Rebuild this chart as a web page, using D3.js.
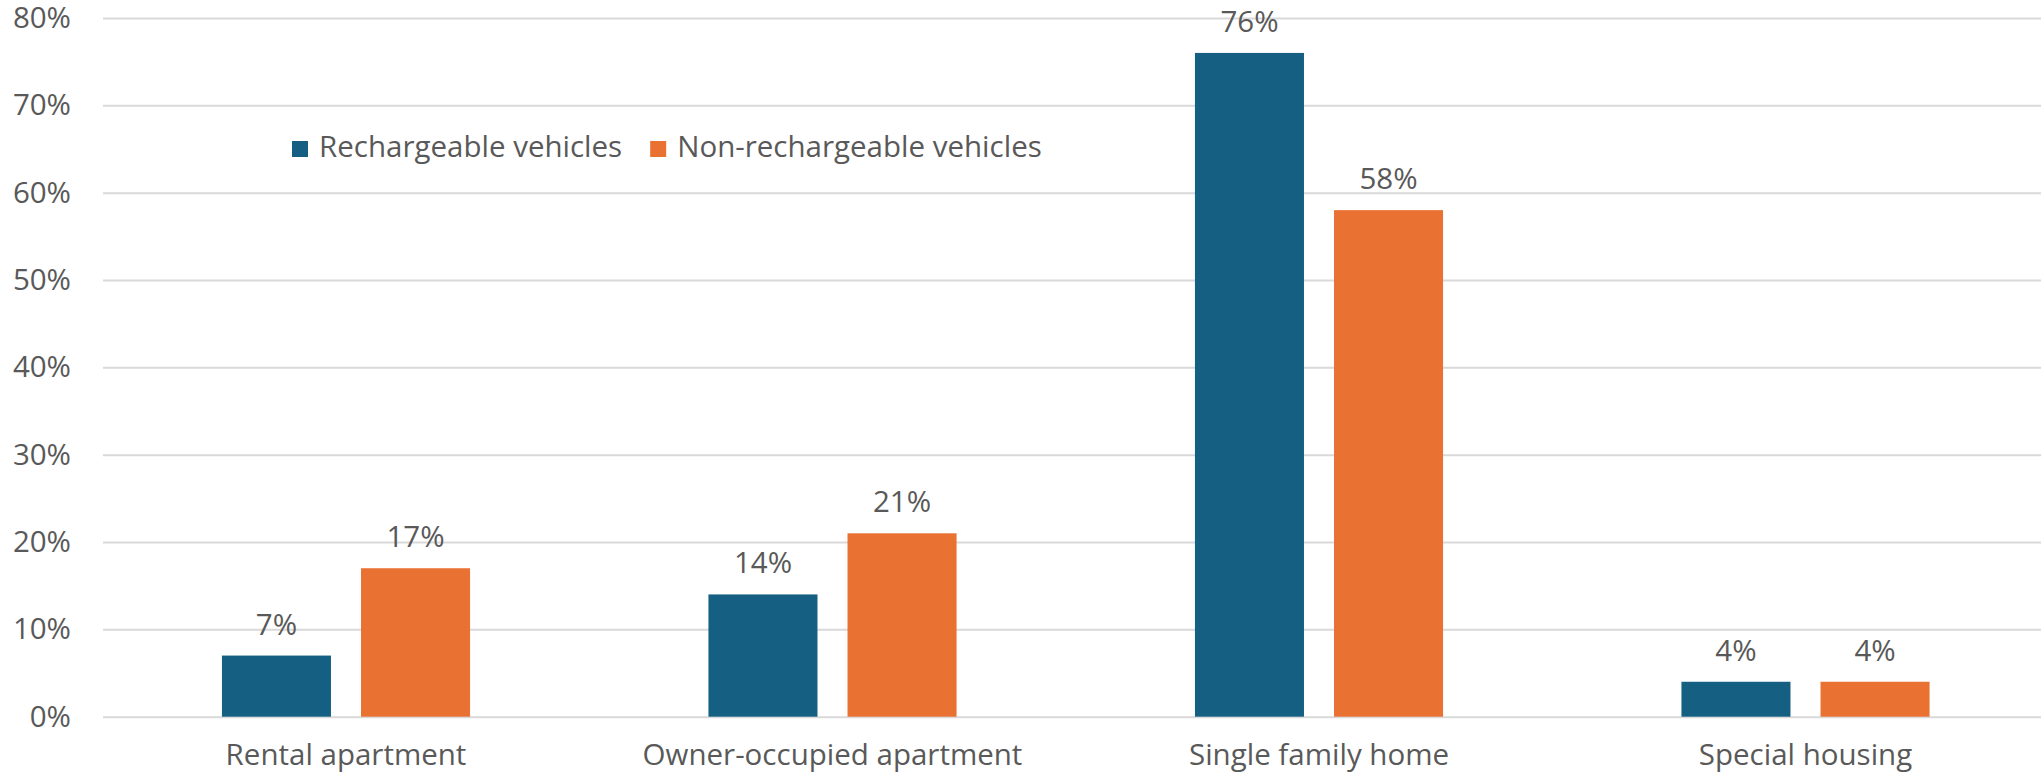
<!DOCTYPE html>
<html>
<head>
<meta charset="utf-8">
<script src="https://cdn.jsdelivr.net/npm/d3@7"></script>
<style>
  html, body { margin: 0; padding: 0; background: #ffffff; }
  svg { display: block; }
  text { font-family: "Open Sans", "Liberation Sans", sans-serif; fill: #595959; }
</style>
</head>
<body>
<svg id="chart" width="2041" height="773"></svg>
<script>
const categories = ["Rental apartment", "Owner-occupied apartment", "Single family home", "Special housing"];
const seriesNames = ["Rechargeable vehicles", "Non-rechargeable vehicles"];
const rechargeable = [0.07, 0.14, 0.76, 0.04];
const nonRechargeable = [0.17, 0.21, 0.58, 0.04];
const yTicks = [0, 0.1, 0.2, 0.3, 0.4, 0.5, 0.6, 0.7, 0.8];
const colors = ["#156082", "#E97132"];

const W = 2041, H = 773;
const fontSize = 29.5;
const svg = d3.select("#chart");

const series = [rechargeable, nonRechargeable];

const x = d3.scaleBand()
  .domain(categories)
  .range([102.75, 2048.75])
  .paddingInner(0.49)
  .paddingOuter(0.245);

const xInner = d3.scaleBand()
  .domain([0, 1])
  .range([0, x.bandwidth()])
  .paddingInner(0.216)
  .paddingOuter(0);

const y = d3.scaleLinear().domain([0, 0.8]).range([716.7, 18]);

// gridlines
const yAxis = d3.axisLeft(y)
  .tickValues(yTicks)
  .tickSize(-(W - 103))
  .tickPadding(32)
  .tickFormat(d3.format(".0%"));

const gy = svg.append("g")
  .attr("transform", "translate(103,0)")
  .call(yAxis);
gy.select(".domain").remove();
gy.selectAll(".tick line").attr("stroke", "#d9d9d9").attr("stroke-width", 2);
gy.selectAll(".tick text")
  .attr("font-size", fontSize)
  .attr("fill", "#595959")
  .style("font-family", '"Open Sans", "Liberation Sans", sans-serif');

// x axis labels
const xAxis = d3.axisBottom(x).tickSize(0).tickPadding(0);
const gx = svg.append("g")
  .attr("transform", "translate(0,740)")
  .call(xAxis);
gx.select(".domain").remove();
gx.selectAll(".tick text")
  .attr("font-size", fontSize)
  .attr("fill", "#595959")
  .attr("dy", null)
  .attr("y", 24.5)
  .style("font-family", '"Open Sans", "Liberation Sans", sans-serif');

// bars
const groups = svg.append("g").selectAll("g")
  .data(categories)
  .join("g")
  .attr("transform", d => `translate(${x(d)},0)`);

groups.selectAll("rect")
  .data((d, i) => series.map((s, k) => ({ k, v: s[i] })))
  .join("rect")
  .attr("x", d => xInner(d.k))
  .attr("width", xInner.bandwidth())
  .attr("y", d => y(d.v))
  .attr("height", d => y(0) - y(d.v))
  .attr("fill", d => colors[d.k]);

groups.selectAll("text.lbl")
  .data((d, i) => series.map((s, k) => ({ k, v: s[i] })))
  .join("text")
  .attr("class", "lbl")
  .attr("x", d => xInner(d.k) + xInner.bandwidth() / 2)
  .attr("y", d => y(d.v) - 21)
  .attr("text-anchor", "middle")
  .attr("font-size", fontSize)
  .attr("fill", "#404040")
  .text(d => d3.format(".0%")(d.v));

// legend
const legend = svg.append("g").attr("transform", "translate(292,0)");
let lx = 0;
seriesNames.forEach((name, k) => {
  legend.append("rect")
    .attr("x", lx).attr("y", 141)
    .attr("width", 16).attr("height", 16)
    .attr("fill", colors[k]);
  const t = legend.append("text")
    .attr("x", lx + 27).attr("y", 156.7)
    .attr("font-size", fontSize)
    .text(name);
  lx += 27 + t.node().getComputedTextLength() + 28;
});
</script>
</body>
</html>
